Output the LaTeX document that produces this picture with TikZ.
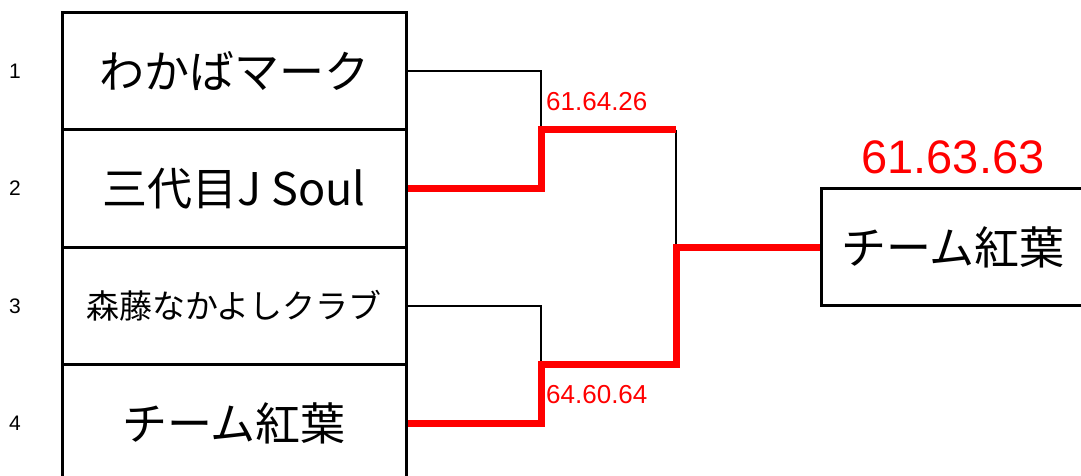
\documentclass[tikz,border=0pt]{standalone}
\usepackage{fontspec}
\setmainfont{Liberation Sans}
\newfontfamily\jp{Noto Sans CJK JP}
\usetikzlibrary{positioning}
\definecolor{winred}{RGB}{255,0,0}
\tikzset{
  team/.style={draw,line width=3pt,minimum width=344pt,minimum height=117.5pt,inner sep=0pt,font=\jp\fontsize{45}{45}\selectfont},
  seed/.style={font=\fontsize{21}{21}\selectfont,inner sep=0pt},
  score/.style={text=winred,font=\fontsize{26}{26}\selectfont,inner sep=0pt},
  lose/.style={line width=2pt},
  won/.style={winred,line width=7pt}
}
\begin{document}
\begin{tikzpicture}[x=1pt,y=-1pt]
\useasboundingbox(0,0) rectangle (1081,476);

\node[team](t1) at (234,71){わかばマーク};
\node[team](t2) at (234,188.5){三代目J Soul};
\node[team,font=\jp\fontsize{33}{33}\selectfont](t3) at (234,306){森藤なかよしクラブ};
\node[team](t4) at (234,423.5){チーム紅葉};
\node[team,minimum width=264pt](win) at (953,247){チーム紅葉};

\foreach \i/\y in {1/71,2/188,3/306,4/423}
  \node[seed](n\i) at (15,\y){\i};

\coordinate(m1) at (541,130);
\coordinate(m2) at (541,364);
\coordinate(q1) at (676,130);
\coordinate(q2) at (676,364);

\draw[lose](t1.east) -| (m1);
\draw[lose](t3.east) -| (m2);
\draw[lose](q1) -- (win.west -| q1);

\draw[won](t2.east) -| (m1) -- (q1);
\draw[won](t4.east) -| (m2) -- (q2) |- (win.west);

\node[score,anchor=west](s1) at (546,102){61.64.26};
\node[score,anchor=west](s2) at (546,395){64.60.64};
\node[score,font=\fontsize{47}{47}\selectfont,above=13pt of win.north](s3){61.63.63};

\end{tikzpicture}
\end{document}
